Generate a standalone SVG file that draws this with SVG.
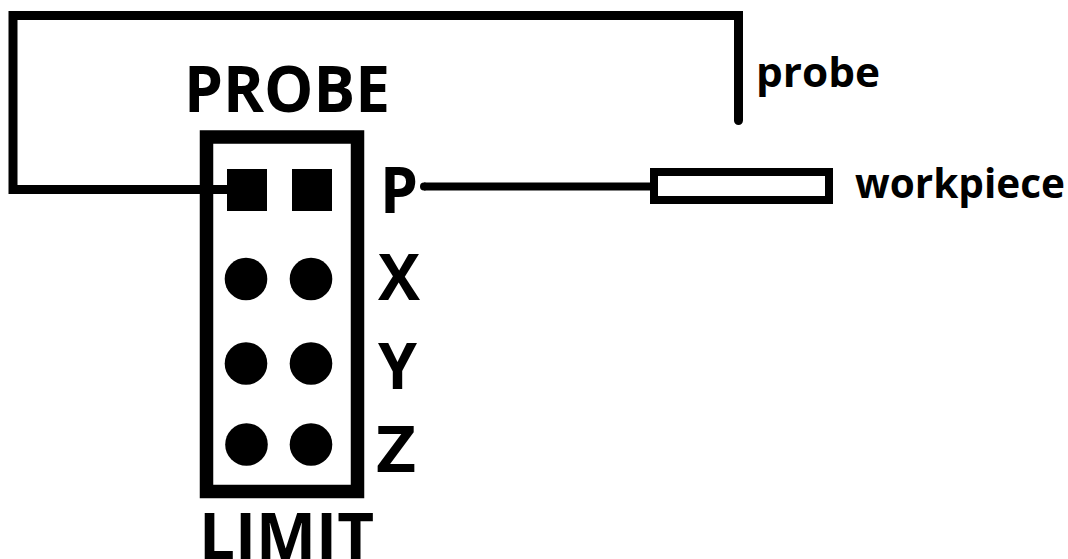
<svg xmlns="http://www.w3.org/2000/svg" width="1068" height="559" viewBox="0 0 1068 559">
<style>
.t{font-family:"Open Sans","DejaVu Sans",sans-serif;font-weight:700;fill:#000}
.b{font-size:64px}
.s{font-size:42px}
.w{fill:none;stroke:#000;stroke-width:9}
</style>
<rect width="1068" height="559" fill="#fff"/>
<g id="connectors">
<path class="w" d="M230 189.500H13V15.500H738.500V120.500"/>
<circle cx="738.500" cy="120.500" r="4.500"/>
<path d="M424 186.500H654" fill="none" stroke="#000" stroke-width="8"/>
<circle cx="424" cy="186.500" r="4"/>
</g>
<g id="header">
<rect class="w" style="stroke-width:13.500" x="206.500" y="137" width="151" height="354.500"/>
<rect x="227" y="169" width="40" height="42"/>
<rect x="292" y="169" width="40" height="42"/>
<circle cx="246" cy="279" r="21.300"/><circle cx="311" cy="279" r="21.300"/>
<circle cx="246" cy="363.500" r="21.300"/><circle cx="311" cy="363.500" r="21.300"/>
<circle cx="246.500" cy="444.500" r="21.300"/><circle cx="311" cy="444.500" r="21.300"/>
</g>
<g id="workpiece"><rect x="654" y="172" width="175" height="28" fill="#fff" stroke="#000" stroke-width="8"/>
<text class="t" style="font-size:41px" x="855" y="198" textLength="210" lengthAdjust="spacingAndGlyphs">workpiece</text></g>
<g id="probe-label"><text class="t s" x="756" y="87" textLength="124" lengthAdjust="spacingAndGlyphs">probe</text></g>
<g id="labels">
<text class="t b" x="184" y="112" textLength="206" lengthAdjust="spacingAndGlyphs">PROBE</text>
<text class="t b" x="380" y="213" textLength="38" lengthAdjust="spacingAndGlyphs">P</text>
<text class="t b" x="378" y="300" textLength="42" lengthAdjust="spacingAndGlyphs">X</text>
<text class="t b" x="378" y="389" textLength="39" lengthAdjust="spacingAndGlyphs">Y</text>
<text class="t b" x="376" y="472" textLength="40" lengthAdjust="spacingAndGlyphs">Z</text>
<text class="t b" x="199" y="559" textLength="175" lengthAdjust="spacingAndGlyphs">LIMIT</text>
</g>
</svg>
